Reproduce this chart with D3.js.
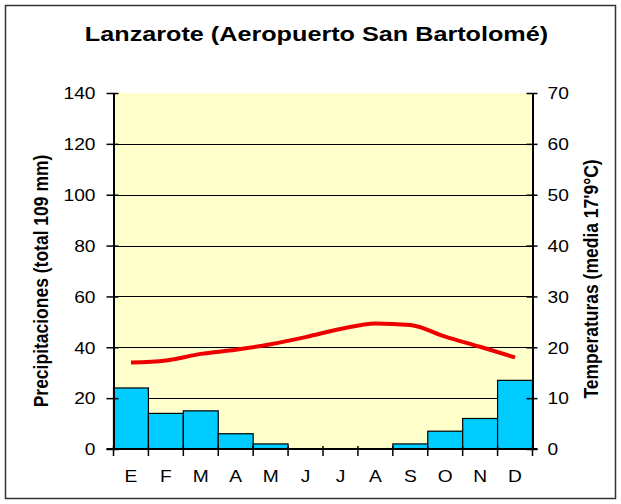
<!DOCTYPE html>
<html>
<head>
<meta charset="utf-8">
<script src="https://cdn.jsdelivr.net/npm/d3@7/dist/d3.min.js"></script>
<style>
  html, body { margin: 0; padding: 0; background: #fff; }
  svg text { font-family: "Liberation Sans", Arial, sans-serif; }
</style>
</head>
<body>
<svg id="chart" width="621" height="504"></svg>
<script>
// Climograma: monthly rainfall (mm) and mean temperature (°C)
const months = ["E", "F", "M", "A", "M", "J", "J", "A", "S", "O", "N", "D"];
const precipitation = [24, 14, 15, 6, 2, 0, 0, 0, 2, 7, 12, 27];
const temperature = [17.0, 17.4, 18.7, 19.5, 20.6, 22.0, 23.6, 24.7, 24.4, 22.1, 20.1, 18.0];
const precipTicks = [0, 20, 40, 60, 80, 100, 120, 140];
const tempTicks = [0, 10, 20, 30, 40, 50, 60, 70];

const titleText = "Lanzarote (Aeropuerto San Bartolomé)";
const leftLabel = "Precipitaciones (total 109 mm)";
const rightLabel = "Temperaturas (media 17'9°C)";

// text is drawn slightly wide, as in the original sheet
const SX = 1.2;

const svg = d3.select("#chart");
const W = 621, H = 504;
const m = { left: 113.5, right: 532.5, top: 93, bottom: 449 };

// outer frame
svg.append("rect")
  .attr("x", 5.5).attr("y", 5.5)
  .attr("width", W - 11).attr("height", H - 11)
  .attr("fill", "#fff").attr("stroke", "#333").attr("stroke-width", 1.5);

const x = d3.scaleBand().domain(d3.range(12)).range([m.left, m.right]).padding(0);
const yP = d3.scaleLinear().domain([0, 140]).range([m.bottom, m.top]);
const yT = d3.scaleLinear().domain([0, 70]).range([m.bottom, m.top]);

// plot background
svg.append("rect")
  .attr("x", m.left).attr("y", m.top)
  .attr("width", m.right - m.left).attr("height", m.bottom - m.top)
  .attr("fill", "#FFFFCC");

// horizontal grid lines
svg.append("g").selectAll("line")
  .data(precipTicks.filter(t => t > 0 && t < 140))
  .join("line")
  .attr("x1", m.left).attr("x2", m.right)
  .attr("y1", d => Math.round(yP(d)) + 0.5).attr("y2", d => Math.round(yP(d)) + 0.5)
  .attr("stroke", "#000").attr("stroke-width", 1);

// rainfall bars
svg.append("g").selectAll("rect")
  .data(precipitation)
  .join("rect")
  .attr("x", (d, i) => x(i))
  .attr("y", d => yP(d))
  .attr("width", x.bandwidth())
  .attr("height", d => yP(0) - yP(d))
  .attr("fill", "#00CCFF")
  .attr("stroke", "#000").attr("stroke-width", 1.2);

// temperature line
svg.append("path")
  .datum(temperature)
  .attr("fill", "none")
  .attr("stroke", "#EE0000")
  .attr("stroke-width", 4)
  .attr("stroke-linejoin", "round")
  .attr("d", d3.line()
    .x((d, i) => x(i) + x.bandwidth() / 2)
    .y(d => yT(d))
    .curve(d3.curveMonotoneX));

// left axis
const leftAxis = d3.axisLeft(yP).tickValues(precipTicks).tickSizeInner(7).tickSizeOuter(0);
const gL = svg.append("g").attr("transform", `translate(${m.left},0)`).call(leftAxis);
gL.selectAll(".tick line").attr("x2", -7).attr("x1", 5).attr("stroke-width", 1.5);
gL.select(".domain").attr("stroke-width", 2);
gL.selectAll(".tick text")
  .attr("x", 0).attr("dy", "0.36em")
  .attr("transform", `translate(-18,0) scale(${SX},1)`);

// right axis
const rightAxis = d3.axisRight(yT).tickValues(tempTicks).tickSizeInner(5).tickSizeOuter(0);
const gR = svg.append("g").attr("transform", `translate(${m.right},0)`).call(rightAxis);
gR.selectAll(".tick line").attr("x1", -6).attr("x2", 5).attr("stroke-width", 1.5);
gR.select(".domain").attr("stroke-width", 2);
gR.selectAll(".tick text")
  .attr("x", 0).attr("dy", "0.36em")
  .attr("transform", `translate(15,0) scale(${SX},1)`);

[gL, gR].forEach(g => {
  g.selectAll(".tick text").attr("font-size", 16).attr("fill", "#000")
    .attr("font-family", "'Liberation Sans', Arial, sans-serif");
  g.selectAll("path, line").attr("stroke", "#000");
});

// bottom axis: line with ticks at month boundaries
const gB = svg.append("g");
gB.append("line")
  .attr("x1", m.left - 7).attr("x2", m.right + 5)
  .attr("y1", m.bottom).attr("y2", m.bottom)
  .attr("stroke", "#000").attr("stroke-width", 2);
gB.selectAll("line.tk")
  .data(d3.range(13))
  .join("line").attr("class", "tk")
  .attr("x1", i => i < 12 ? x(i) : m.right).attr("x2", i => i < 12 ? x(i) : m.right)
  .attr("y1", m.bottom - 3).attr("y2", m.bottom + 7)
  .attr("stroke", "#000").attr("stroke-width", 1.5);
gB.selectAll("text")
  .data(months)
  .join("text")
  .attr("transform", (d, i) => `translate(${x(i) + x.bandwidth() / 2},482) scale(${SX},1)`)
  .attr("text-anchor", "middle")
  .attr("font-size", 16)
  .text(d => d);

// title
svg.append("text")
  .attr("transform", `translate(316.5,41) scale(${SX},1)`)
  .attr("text-anchor", "middle")
  .attr("font-size", 21).attr("font-weight", "bold")
  .text(titleText);

// axis titles
svg.append("text")
  .attr("transform", `translate(48,281) scale(${SX},1) rotate(-90)`)
  .attr("text-anchor", "middle")
  .attr("font-size", 17.5).attr("font-weight", "bold")
  .text(leftLabel);
svg.append("text")
  .attr("transform", `translate(598,279) scale(${SX},1) rotate(-90)`)
  .attr("text-anchor", "middle")
  .attr("font-size", 17.5).attr("font-weight", "bold")
  .text(rightLabel);
</script>
</body>
</html>
